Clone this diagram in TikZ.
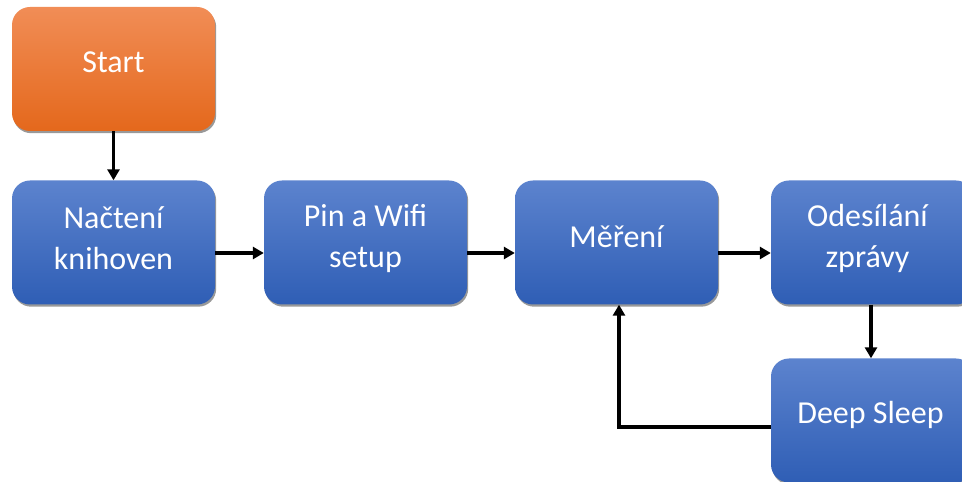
\documentclass[tikz,border=0pt]{standalone}
\usepackage{fontspec}
\setmainfont{Carlito}
\usetikzlibrary{arrows.meta,shadows}
\definecolor{bluetop}{RGB}{92,131,206}
\definecolor{bluebot}{RGB}{47,94,181}
\definecolor{orangetop}{RGB}{241,141,86}
\definecolor{orangebot}{RGB}{228,104,28}
\tikzset{
  flowbox/.style={rounded corners=18pt, minimum width=203pt, minimum height=124pt,
    inner sep=0pt, draw=none,
    drop shadow={shadow xshift=1.2pt, shadow yshift=-2.2pt, opacity=0.5, fill=black!80}},
  bluebox/.style={flowbox, top color=bluetop, bottom color=bluebot},
  orangebox/.style={flowbox, top color=orangetop, bottom color=orangebot},
  boxtext/.style={text=white, font=\fontsize{32}{41}\selectfont, align=center, inner sep=0pt},
  flowarrow/.style={line width=3.5pt, -{Triangle[length=11pt,width=12pt]}}
}
\begin{document}
\begin{tikzpicture}[x=1pt,y=1pt]
\useasboundingbox (0,0) rectangle (962,482);
\clip (0,0) rectangle (962,482);
\node[orangebox] (start) at (113.5,413) {};
\node[bluebox] (b1) at (113.5,239.5) {};
\node[bluebox] (b2) at (365.5,239.5) {};
\node[bluebox] (b3) at (616.5,239.5) {};
\node[bluebox] (b4) at (872.5,239.5) {};
\node[bluebox] (ds) at (872.5,61.5) {};

\node[boxtext] (tstart) at ([yshift=7pt]start.center) {Start};
\node[boxtext] (t1) at ([yshift=4pt]b1.center) {Načtení\\knihoven};
\node[boxtext] (t2) at ([yshift=4pt]b2.center) {Pin a Wifi\\setup};
\node[boxtext] (t3) at ([yshift=6pt]b3.center) {Měření};
\node[boxtext] (t4) at ([xshift=-5pt,yshift=4pt]b4.center) {Odesílání\\zprávy};
\node[boxtext] (tds) at ([xshift=-2pt,yshift=6pt]ds.center) {Deep Sleep};

\draw[flowarrow] (start.south) -- (b1.north);
\draw[flowarrow] ([yshift=-10.5pt]b1.east) -- ([yshift=-10.5pt]b2.west);
\draw[flowarrow] ([yshift=-10.5pt]b2.east) -- ([yshift=-10.5pt]b3.west);
\draw[flowarrow] ([yshift=-10.5pt]b3.east) -- ([yshift=-10.5pt]b4.west);
\draw[flowarrow] ([xshift=-1.5pt]b4.south) -- ([xshift=-1.5pt]ds.north);
\draw[flowarrow] ([yshift=-6.5pt]ds.west) -| ([xshift=2.5pt]b3.south);
\end{tikzpicture}
\end{document}
